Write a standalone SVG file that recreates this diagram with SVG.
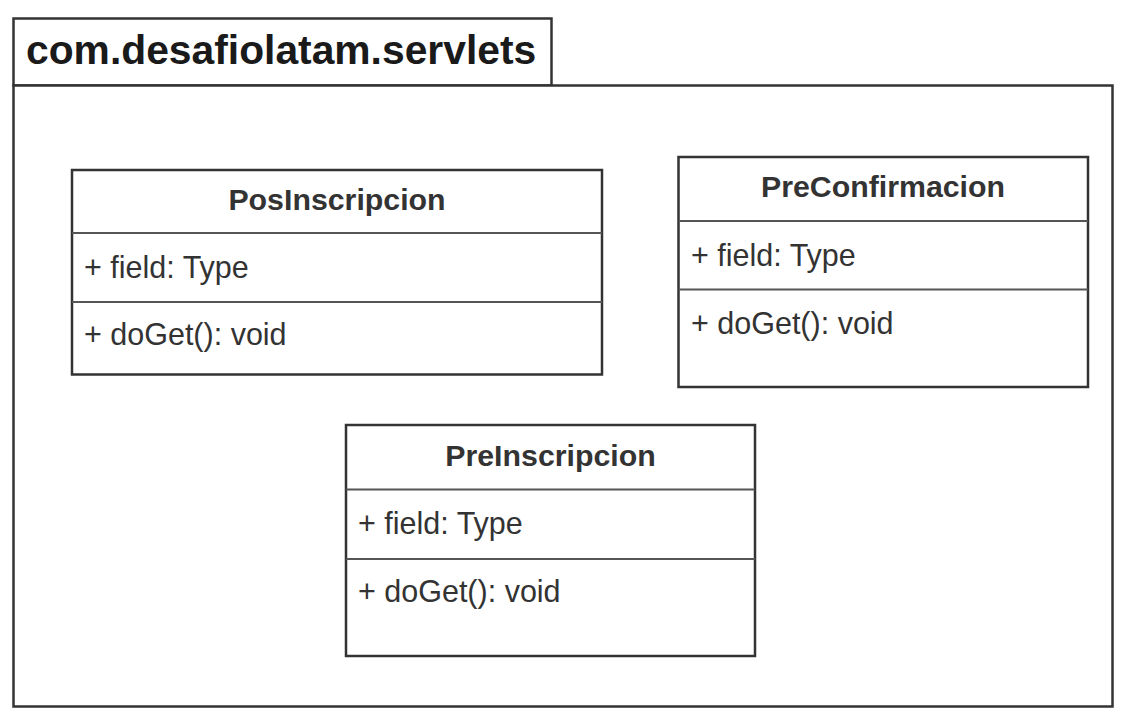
<svg xmlns="http://www.w3.org/2000/svg" width="1128" height="726" viewBox="0 0 1128 726">
<style>
.box{fill:#fff;stroke:#333;stroke-width:2.5}
.div{stroke:#555;stroke-width:2}
.pkg{font-family:"Liberation Sans",Arial,sans-serif;font-weight:bold;font-size:40.8px;fill:#1a1a1a}
.title{font-family:"Liberation Sans",Arial,sans-serif;font-weight:bold;font-size:30.3px;fill:#333;text-anchor:middle}
.mem{font-family:"Liberation Sans",Arial,sans-serif;font-size:30.5px;fill:#333}
</style>
<rect width="1128" height="726" fill="#fff"/>
<g id="package">
<rect class="box" x="13.5" y="18.5" width="538" height="67"/>
<rect class="box" x="13.5" y="85.5" width="1099" height="621"/>
<text class="pkg" x="26" y="64">com.desafiolatam.servlets</text>
</g>
<g id="PosInscripcion">
<rect class="box" x="72" y="170" width="530" height="204.5"/>
<line class="div" x1="72" y1="233" x2="602" y2="233"/>
<line class="div" x1="72" y1="302" x2="602" y2="302"/>
<text class="title" x="337" y="210">PosInscripcion</text>
<text class="mem" x="84" y="278">+ field: Type</text>
<text class="mem" x="84" y="345">+ doGet(): void</text>
</g>
<g id="PreConfirmacion">
<rect class="box" x="678.5" y="157" width="409.5" height="230"/>
<line class="div" x1="678.5" y1="221" x2="1088" y2="221"/>
<line class="div" x1="678.5" y1="289.5" x2="1088" y2="289.5"/>
<text class="title" x="883" y="197">PreConfirmacion</text>
<text class="mem" x="691" y="266">+ field: Type</text>
<text class="mem" x="691" y="334">+ doGet(): void</text>
</g>
<g id="PreInscripcion">
<rect class="box" x="346" y="425" width="409" height="231"/>
<line class="div" x1="346" y1="489.5" x2="755" y2="489.5"/>
<line class="div" x1="346" y1="559" x2="755" y2="559"/>
<text class="title" x="550.5" y="466">PreInscripcion</text>
<text class="mem" x="358" y="534">+ field: Type</text>
<text class="mem" x="358" y="602">+ doGet(): void</text>
</g>
<g id="connectors"/>
</svg>
